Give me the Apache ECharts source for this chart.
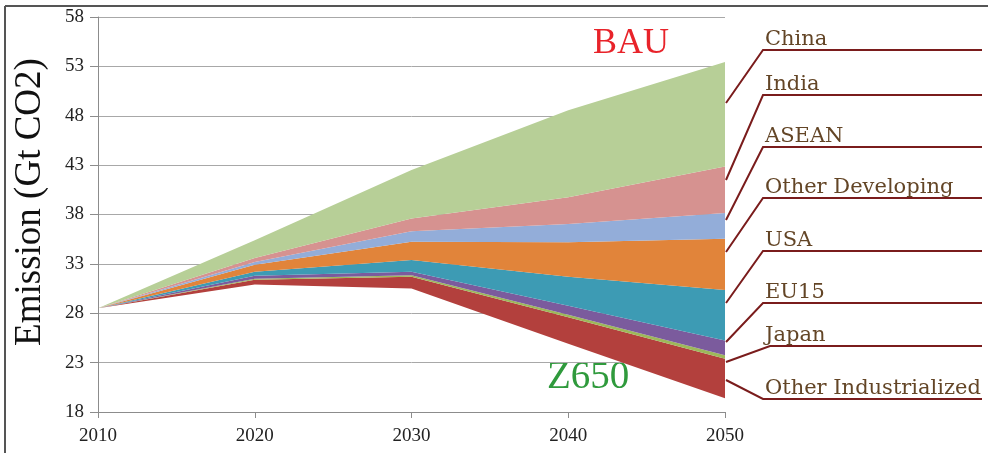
<!DOCTYPE html>
<html>
<head>
<meta charset="utf-8">
<script src="https://cdn.jsdelivr.net/npm/echarts@6/dist/echarts.min.js"></script>
<style>
  html, body { margin: 0; padding: 0; background: #fff; }
  #chart { width: 988px; height: 453px; }
</style>
</head>
<body>
<div id="chart"></div>
<script>
// 年份
const years = ['2010', '2020', '2030', '2040', '2050']
// Z650 路径（底线）
const z650 = [28.5, 30.9, 30.5, 24.9, 19.4]
// 各地区减排楔形（自下而上叠加，顶部为 BAU）
const otherIndustrialized = [0, 0.5, 1.2, 2.7, 4.0]
const japan = [0, 0.1, 0.15, 0.25, 0.35]
const eu15 = [0, 0.3, 0.35, 0.9, 1.5]
const usa = [0, 0.4, 1.2, 2.95, 5.1]
const otherDeveloping = [0, 0.7, 1.85, 3.5, 5.2]
const asean = [0, 0.3, 1.05, 1.85, 2.6]
const india = [0, 0.4, 1.3, 2.7, 4.7]
const china = [0, 1.8, 4.9, 8.8, 10.6]

const regionNames = ['Other Industrialized', 'Japan', 'EU15', 'USA', 'Other Developing', 'ASEAN', 'India', 'China']
const regionData = [otherIndustrialized, japan, eu15, usa, otherDeveloping, asean, india, china]
const regionColors = ['#B3403D', '#9DB85A', '#7B5B9D', '#3D9BB4', '#E1843A', '#93ADD9', '#D69290', '#B7CF97']

const serif = 'Liberation Serif'
const legendFont = 'DejaVu Serif'
const legendColor = '#634526'
const leaderColor = '#7A1C1C'

// 图例文字和引线（右侧）
const legendItems = [
  { text: 'China', y: 50, tip: 103, x0: 763 },
  { text: 'India', y: 95, tip: 180, x0: 763 },
  { text: 'ASEAN', y: 147, tip: 220, x0: 763 },
  { text: 'Other Developing', y: 198, tip: 252, x0: 763 },
  { text: 'USA', y: 251, tip: 303, x0: 763 },
  { text: 'EU15', y: 303, tip: 342, x0: 763 },
  { text: 'Japan', y: 346, tip: 362, x0: 770 },
  { text: 'Other Industrialized', y: 399, tip: 380, x0: 763 }
]

const chartInstance = echarts.init(document.getElementById('chart'))

const series = [
  {
    name: 'Z650',
    type: 'line',
    stack: 'total',
    symbol: 'none',
    silent: true,
    lineStyle: { width: 0 },
    areaStyle: { opacity: 0 },
    data: z650
  }
]
regionNames.forEach((name, i) => {
  series.push({
    name: name,
    type: 'line',
    stack: 'total',
    symbol: 'none',
    lineStyle: { width: 0 },
    areaStyle: { color: regionColors[i], opacity: 1 },
    data: regionData[i]
  })
})

const graphics = [
  // 外框
  { type: 'line', shape: { x1: 5, y1: 6, x2: 988, y2: 6 }, style: { stroke: '#555', lineWidth: 2 } },
  { type: 'line', shape: { x1: 5, y1: 6, x2: 5, y2: 453 }, style: { stroke: '#555', lineWidth: 2 } },
  // 纵轴标题
  {
    type: 'text', x: 30, y: 202, rotation: Math.PI / 2,
    style: { text: 'Emission (Gt CO2)', font: '37px "' + serif + '"', fill: '#111', align: 'center', verticalAlign: 'middle' }
  },
  {
    type: 'text', left: 593, top: 26,
    style: { text: 'BAU', font: '36px "' + serif + '"', fill: '#E8232A' }
  },
  {
    type: 'text', left: 547, top: 358,
    style: { text: 'Z650', font: '39px "' + serif + '"', fill: '#2F9A3C' }
  }
]
legendItems.forEach((item) => {
  graphics.push({
    type: 'polyline',
    shape: { points: [[726, item.tip], [item.x0, item.y], [982, item.y]] },
    style: { stroke: leaderColor, lineWidth: 2, fill: null }
  })
  graphics.push({
    type: 'text',
    x: 765,
    y: item.y,
    style: {
      text: item.text,
      font: '21px "' + legendFont + '"',
      fill: legendColor,
      verticalAlign: 'bottom'
    }
  })
})

const option = {
  animation: false,
  grid: { left: 98, right: 263, top: 17, bottom: 41 },
  xAxis: {
    type: 'category',
    boundaryGap: false,
    data: years,
    axisLine: { lineStyle: { color: '#8C8C8C' } },
    axisTick: { show: true, length: 6, lineStyle: { color: '#8C8C8C' } },
    axisLabel: { fontFamily: serif, fontSize: 19, color: '#222', margin: 15 },
    splitLine: { show: false }
  },
  yAxis: {
    type: 'value',
    min: 18,
    max: 58,
    interval: 5,
    axisLine: { show: true, lineStyle: { color: '#8C8C8C' } },
    axisTick: { show: true, length: 8, lineStyle: { color: '#8C8C8C' } },
    axisLabel: { fontFamily: serif, fontSize: 19, color: '#222', margin: 14 },
    splitLine: { lineStyle: { color: '#A8A8A8', width: 1 } }
  },
  series: series,
  graphic: graphics
}
chartInstance.setOption(option)
</script>
</body>
</html>
